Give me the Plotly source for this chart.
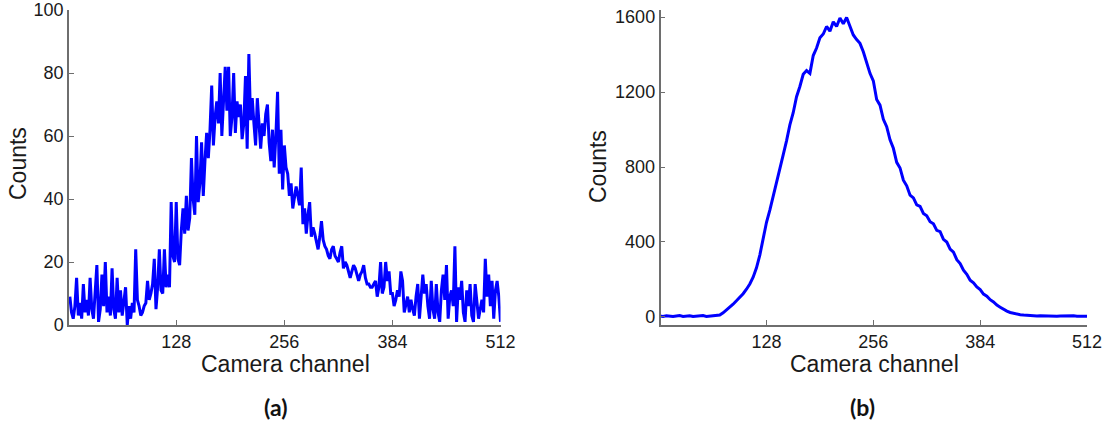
import plotly.graph_objects as go

# ---- data -------------------------------------------------------------
# (a) single-shot spectrum, sampled every 2 camera channels (2..512)
channels_a = list(range(2, 513, 2))
counts_a = [
    9, 4, 2, 6, 15, 3, 7, 2, 13, 4, 8, 3, 15, 5, 2, 10,
    19, 1, 5, 16, 6, 20, 4, 9, 3, 18, 5, 2, 15, 4, 11, 3,
    8, 12, 0, 6, 2, 7, 4, 24, 8, 6, 3, 4, 6, 7, 14, 8,
    10, 13, 21, 5, 12, 24, 11, 10, 24, 12, 16, 12, 39, 22, 20, 39,
    21, 19, 30, 37, 29, 41, 30, 34, 53, 40, 35, 60, 39, 45, 58, 41,
    52, 61, 53, 62, 76, 57, 66, 71, 64, 80, 60, 70, 82, 68, 82, 60,
    66, 80, 61, 71, 66, 70, 59, 64, 79, 56, 86, 65, 72, 64, 57, 72,
    62, 56, 64, 60, 67, 70, 58, 52, 62, 50, 60, 74, 48, 62, 43, 57,
    50, 48, 41, 45, 37, 40, 44, 41, 38, 50, 32, 37, 29, 35, 39, 28,
    31, 29, 26, 24, 28, 33, 27, 25, 24, 22, 21, 24, 25, 22, 21, 20,
    23, 25, 18, 20, 19, 17, 15, 17, 19, 18, 16, 14, 16, 17, 19, 15,
    13, 13, 12, 12, 13, 14, 9, 12, 20, 10, 12, 20, 14, 17, 10, 10,
    6, 8, 11, 9, 17, 14, 4, 7, 9, 4, 8, 5, 3, 9, 13, 2,
    8, 16, 10, 13, 6, 2, 14, 5, 2, 13, 4, 1, 11, 16, 8, 19,
    2, 9, 11, 6, 25, 1, 12, 8, 14, 4, 1, 11, 6, 13, 3, 1,
    13, 6, 2, 5, 8, 4, 21, 9, 16, 6, 14, 2, 11, 14, 9, 1,
]

# (b) accumulated spectrum, sampled every 4 camera channels (0..512)
channels_b = list(range(0, 513, 4))
counts_b = [
    5, 3, 6, 4, 2, 5, 7, 3, 4, 6, 2, 5, 4, 7, 3, 5, 6, 8, 10,
    22, 36, 52, 68, 86, 104, 124, 148, 176, 212, 262, 330, 420, 505,
    570, 640, 725, 790, 865, 940, 1025, 1090, 1175, 1230, 1295, 1315,
    1300, 1395, 1435, 1490, 1510, 1550, 1525, 1575, 1550, 1595, 1565,
    1598, 1555, 1505, 1480, 1460, 1415, 1355, 1300, 1260, 1160, 1130,
    1055, 1015, 945, 900, 825, 795, 730, 700, 650, 635, 598, 590, 552,
    540, 508, 497, 462, 455, 414, 400, 362, 346, 306, 285, 250, 228,
    196, 182, 160, 146, 122, 111, 92, 80, 63, 52, 40, 31, 24, 19, 15,
    12, 10, 8, 7, 6, 5, 6, 5, 4, 6, 5, 4, 5, 6, 4, 5, 6, 4, 5, 5, 4,
]

x_ticks = [128, 256, 384, 512]
y_ticks_a = [0, 20, 40, 60, 80, 100]
y_ticks_b = [0, 400, 800, 1200, 1600]

assert len(channels_a) == len(counts_a)
assert len(channels_b) == len(counts_b)

# ---- figure -----------------------------------------------------------
W, H = 1107, 422
LINE = "#0000ff"
AXIS = "#6e6e6e"
TICK_FONT = dict(family="Liberation Sans, Arial, sans-serif", size=18, color="#1a1a1a")
TITLE_FONT = dict(family="Liberation Sans, Arial, sans-serif", size=23, color="#1a1a1a")
PANEL_FONT = dict(family="Lato, sans-serif", size=23, color="#111111")


def px_x(p):
    return p / W


def px_y(p):
    return 1 - p / H


fig = go.Figure()
fig.add_trace(go.Scatter(x=channels_a, y=counts_a, mode="lines",
                         line=dict(color=LINE, width=3), xaxis="x", yaxis="y",
                         showlegend=False))
fig.add_trace(go.Scatter(x=channels_b, y=counts_b, mode="lines",
                         line=dict(color=LINE, width=3), xaxis="x2", yaxis="y2",
                         showlegend=False))

axis_common = dict(showline=True, linecolor=AXIS, linewidth=1.5, mirror=False,
                   ticks="inside", ticklen=5, tickwidth=1, tickcolor=AXIS,
                   showgrid=False, zeroline=False, tickfont=TICK_FONT)

y_dom = [px_y(325), px_y(10)]

fig.update_layout(
    width=W, height=H, autosize=False,
    margin=dict(l=0, r=0, t=0, b=0, pad=0, autoexpand=False),
    paper_bgcolor="white", plot_bgcolor="white",
    xaxis=dict(domain=[px_x(69), px_x(500.5)], range=[1, 512],
               tickvals=x_ticks, anchor="y", **axis_common),
    yaxis=dict(domain=y_dom, range=[0, 100], tickvals=y_ticks_a,
               anchor="x", **axis_common),
    xaxis2=dict(domain=[px_x(660.5), px_x(1087)], range=[1, 512],
                tickvals=x_ticks, anchor="y2", **axis_common),
    yaxis2=dict(domain=y_dom, range=[-43, 1638], tickvals=y_ticks_b,
                anchor="x2", **axis_common),
)

annotations = [
    dict(text="Camera channel", x=px_x(285), y=px_y(364), font=TITLE_FONT),
    dict(text="Camera channel", x=px_x(874), y=px_y(364), font=TITLE_FONT),
    dict(text="Counts", x=px_x(18), y=px_y(164), textangle=-90, font=TITLE_FONT),
    dict(text="Counts", x=px_x(598), y=px_y(167), textangle=-90, font=TITLE_FONT),
    dict(text="<b>(a)</b>", x=px_x(275), y=px_y(407), font=PANEL_FONT),
    dict(text="<b>(b)</b>", x=px_x(862), y=px_y(407), font=PANEL_FONT),
]
for a in annotations:
    fig.add_annotation(xref="paper", yref="paper", xanchor="center",
                       yanchor="middle", showarrow=False, borderpad=0, **a)

# page body without default margins so the figure sits flush in the window
page_css = ("document.body.style.margin='0';"
            "document.body.style.overflow='hidden';"
            "document.documentElement.style.overflow='hidden';")
fig.write_html("out.html", config={"responsive": False}, post_script=page_css)
